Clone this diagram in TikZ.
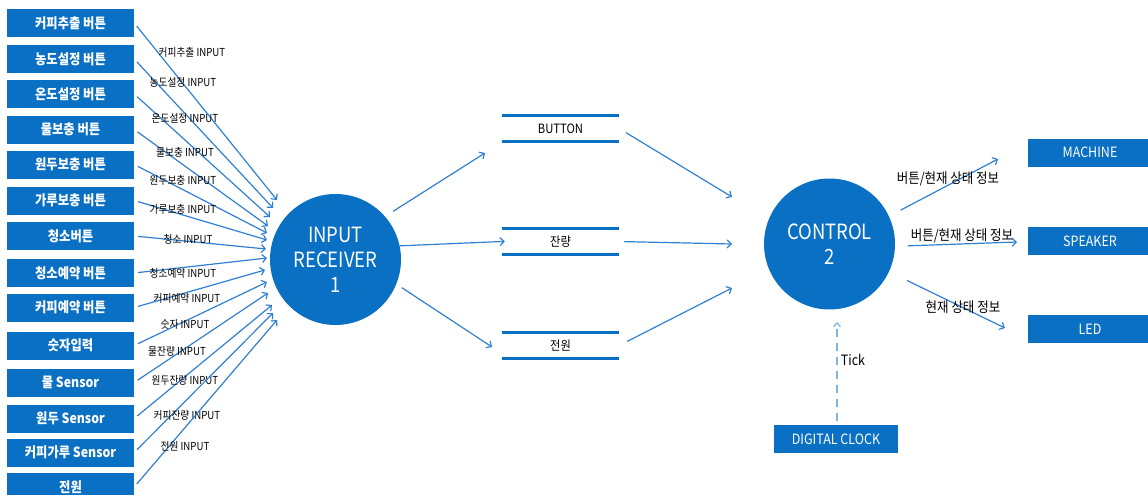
\documentclass[tikz,border=0pt]{standalone}
\usepackage{fontspec}
\setmainfont[FakeStretch=0.88]{Noto Sans CJK KR}
\usetikzlibrary{arrows.meta}
\definecolor{boxblue}{HTML}{0A70C4}
\definecolor{linkblue}{HTML}{2F80D2}
\definecolor{tickblue}{HTML}{7DB3E2}
\begin{document}
\begin{tikzpicture}[x=1pt,y=-1pt,
  leftbox/.style={fill=boxblue, text=white, minimum width=127pt, minimum height=28pt,
    inner sep=0pt, font=\fontsize{14}{16}\selectfont\bfseries},
  outbox/.style={fill=boxblue, text=white, minimum width=124pt, minimum height=28pt,
    inner sep=0pt, font=\fontsize{14.2}{16}\selectfont},
  proc/.style={circle, fill=boxblue, text=white, minimum size=131pt, inner sep=0pt,
    align=center, font=\fontsize{21}{25}\selectfont},
  store/.style={minimum width=117pt, minimum height=25pt, inner sep=0pt,
    font=\fontsize{12.8}{14}\selectfont},
  storeline/.style={draw=boxblue, line width=3pt},
  lbl/.style={inner sep=0pt, font=\fontsize{11}{13}\selectfont},
  flowlbl/.style={inner sep=0pt, font=\fontsize{14.2}{16}\selectfont},
  link/.style={draw=linkblue, line width=1.2pt,
    -{Straight Barb[length=4pt,width=8pt,line width=1.2pt]}},
  ticklink/.style={draw=tickblue, line width=1.2pt, dash pattern=on 8pt off 6pt,
    -{Straight Barb[length=4pt,width=7pt,line width=1.2pt]}}]
\useasboundingbox (0,0) rectangle (1148,495);

% processes
\node[proc] (recv) at (335.5,259.5) {INPUT\\RECEIVER\\1};
\node[proc] (ctrl) at (829.5,244) {CONTROL\\2};

% input sources with their flows into the receiver
\foreach \i/\yy/\txt/\lab/\lx/\ly/\ex/\ey in {
  1/23/커피추출 버튼/커피추출 INPUT/192/52/277/200,
  2/59/농도설정 버튼/농도설정 INPUT/183/82/273/208,
  3/94/온도설정 버튼/온도설정 INPUT/185/118/270/217,
  4/129.5/물보충 버튼/물보충 INPUT/185/152/268/226,
  5/164.5/원두보충 버튼/원두보충 INPUT/183/180/267/233,
  6/200.5/가루보충 버튼/가루보충 INPUT/183/209/267/240,
  7/236/청소버튼/청소 INPUT/188/239/266/249,
  8/273/청소예약 버튼/청소예약 INPUT/183/273/267/258,
  9/307.5/커피예약 버튼/커피예약 INPUT/187/298/265/270,
  10/345.5/숫자입력/숫자 INPUT/185/324/267/282,
  11/382.5/물 Sensor/물잔량 INPUT/177/351/268/293,
  12/418.5/원두 Sensor/원두잔량 INPUT/185/380/272/305,
  13/452.5/커피가루 Sensor/커피잔량 INPUT/187/415/273/313,
  14/487/전원/전원 INPUT/185/446/277/320}{
  \node[leftbox] (b\i) at (70.5,\yy) {\txt};
  \coordinate (e\i) at (\ex,\ey);
  \draw[link, shorten <=4pt] (b\i.east) -- (e\i);
  \node[lbl] (l\i) at (\lx,\ly) {\lab};
}

% data stores
\node[store] (s1) at (560.5,128.5) {BUTTON};
\node[store] (s2) at (560.5,241.5) {잔량};
\node[store] (s3) at (560.5,345.5) {전원};
\foreach \s in {s1,s2,s3}{
  \draw[storeline] (\s.north west) -- (\s.north east);
  \draw[storeline] (\s.south west) -- (\s.south east);
}

% receiver to stores
\coordinate (r1) at (485,153);
\coordinate (r3) at (492,347);
\draw[link, shorten <=9.5pt] (recv.41) -- (r1);
\draw[link, shorten >=-3pt] (recv.12) -- (s2.west);
\draw[link, shorten <=6.5pt] (recv.-22.5) -- (r3);

% stores to control
\coordinate (c1) at (732,197);
\coordinate (c2) at (732,244);
\coordinate (c3) at (732,288);
\draw[link, shorten <=8pt] (s1.east) -- (c1);
\draw[link, shorten <=5pt] (s2.east) -- (c2);
\draw[link, shorten <=9pt] (s3.east) -- (c3);

% outputs
\node[outbox] (mach) at (1090,152.5) {MACHINE};
\node[outbox] (spk) at (1090,241) {SPEAKER};
\node[outbox] (led) at (1090,329) {LED};
\coordinate (o1) at (998,159);
\coordinate (o2) at (1017,242);
\coordinate (o3) at (1005,328);
\draw[link, shorten <=13pt] (ctrl.25.7) -- (o1);
\draw[link, shorten <=12.6pt] (ctrl.-2.2) -- (o2);
\draw[link, shorten <=20pt] (ctrl.-25.8) -- (o3);
\node[flowlbl] (f1) at (948,179) {버튼/현재 상태 정보};
\node[flowlbl] (f2) at (962,236) {버튼/현재 상태 정보};
\node[flowlbl] (f3) at (963,307) {현재 상태 정보};

% clock
\node[outbox] (clk) at (836,439) {DIGITAL CLOCK};
\coordinate (t1) at (837,322);
\draw[ticklink, shorten <=4pt] (clk.north -| t1) -- (t1);
\node[flowlbl] (tk) at (853,360) {Tick};
\end{tikzpicture}
\end{document}
